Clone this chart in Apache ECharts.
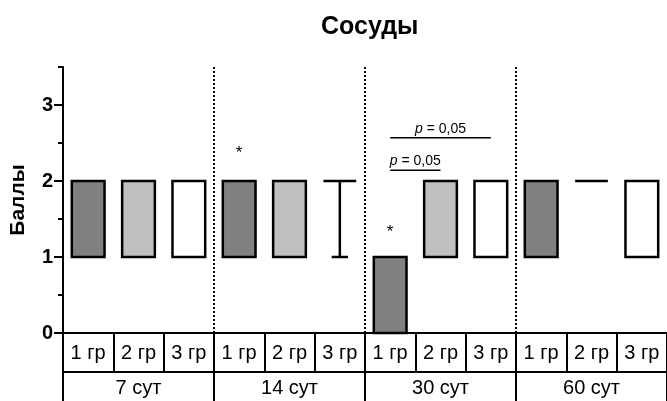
<!DOCTYPE html>
<html>
<head>
<meta charset="utf-8">
<script src="https://cdn.jsdelivr.net/npm/echarts@6/dist/echarts.min.js"></script>
<style>html,body{margin:0;padding:0;background:#fff}#c{width:667px;height:401px}</style>
</head>
<body>
<div id="c"></div>
<script>
// ---- data ----
var categories = ['1 гр','2 гр','3 гр','1 гр','2 гр','3 гр','1 гр','2 гр','3 гр','1 гр','2 гр','3 гр'];
var groups = ['7 сут','14 сут','30 сут','60 сут'];
var minVals = [1,1,1, 1,1,1, 0,1,1, 1,2,1];
var q1Vals  = [1,1,1, 1,1,2, 0,1,1, 1,2,1];
var q3Vals  = [2,2,2, 2,2,2, 1,2,2, 2,2,2];
var maxVals = [2,2,2, 2,2,2, 1,2,2, 2,2,2];
var groupColors = ['#808080','#c0c0c0','#ffffff'];
var groupStarts = [3, 6, 9];
var stars = [[3, 2.36], [6, 1.33]];
var brackets = [[6, 7, 2.14], [6, 8, 2.57]];
var bracketLabel = '{i|p} = 0,05';
var yMajorTicks = [0, 1, 2, 3];
var yMinorTicks = [0.5, 1.5, 2.5, 3.5];

var FONT = 'Liberation Sans, Arial, sans-serif';
var boxData = categories.map(function (c, i) {
  return [i, minVals[i], q1Vals[i], q3Vals[i], maxVals[i], i % 3];
});

var chart = echarts.init(document.getElementById('c'));
chart.setOption({
  animation: false,
  backgroundColor: '#fff',
  title: {
    text: 'Сосуды', left: 316, top: 10,
    textStyle: { fontFamily: FONT, fontSize: 25, fontWeight: 'bold', color: '#000' }
  },
  grid: { left: 62, right: 0, top: 67, bottom: 68 },
  xAxis: [{
    type: 'category', data: categories, position: 'bottom', boundaryGap: true,
    axisLine: { show: true, onZero: false, lineStyle: { color: '#000', width: 2 } },
    axisTick: { show: true, interval: 0, length: 39, lineStyle: { color: '#000', width: 2 } },
    axisLabel: { show: true, interval: 0, margin: 10, fontSize: 20, color: '#000', fontFamily: FONT }
  }, {
    type: 'category', data: groups, position: 'bottom', offset: 39, boundaryGap: true,
    axisLine: { show: true, onZero: false, lineStyle: { color: '#000', width: 2 } },
    axisTick: { show: true, interval: 0, length: 31, lineStyle: { color: '#000', width: 2 } },
    axisLabel: { show: true, interval: 0, margin: 6, fontSize: 20, color: '#000', fontFamily: FONT }
  }],
  yAxis: [{
    type: 'value', min: 0, max: 3.5,
    name: 'Баллы', nameLocation: 'middle', nameRotate: 90, nameGap: 34,
    nameTextStyle: { fontFamily: FONT, fontSize: 21, fontWeight: 'bold', color: '#000' },
    axisLine: { show: true, lineStyle: { color: '#000', width: 2 } },
    axisTick: { show: true, customValues: yMajorTicks, length: 9, lineStyle: { color: '#000', width: 2 } },
    axisLabel: { customValues: yMajorTicks, margin: 10, fontSize: 20, fontWeight: 'bold', color: '#000', fontFamily: FONT },
    splitLine: { show: false }
  }, {
    type: 'value', min: 0, max: 3.5, position: 'left',
    axisLine: { show: false },
    axisTick: { show: true, customValues: yMinorTicks, length: 5, lineStyle: { color: '#000', width: 2 } },
    axisLabel: { show: false },
    splitLine: { show: false }
  }],
  series: [{
    type: 'custom', xAxisIndex: 0, yAxisIndex: 0, data: groupStarts.map(function (g) { return [g, 0]; }),
    encode: { x: 0, y: 1 }, z: 1,
    renderItem: function (params, api) {
      var bw = api.size([1, 0])[0];
      var x = api.coord([api.value(0), 0])[0] - bw / 2;
      var y0 = api.coord([0, 0])[1];
      var y1 = api.coord([0, 3.5])[1];
      return { type: 'line', shape: { x1: x, y1: y0, x2: x, y2: y1 },
        style: { stroke: '#000', lineWidth: 2, lineDash: [2, 2] } };
    }
  }, {
    type: 'custom', xAxisIndex: 0, yAxisIndex: 0, data: boxData, encode: { x: 0, y: [1, 2, 3, 4] }, z: 3,
    renderItem: function (params, api) {
      var i = api.value(0);
      var mn = api.value(1), q1 = api.value(2), q3 = api.value(3), mx = api.value(4);
      var bw = api.size([1, 0])[0];
      var w = bw * 0.65;
      var cx = api.coord([i, 0])[0];
      var yq1 = api.coord([i, q1])[1], yq3 = api.coord([i, q3])[1];
      var ymn = api.coord([i, mn])[1], ymx = api.coord([i, mx])[1];
      var ls = { stroke: '#000', lineWidth: 2.5 };
      var ch = [];
      if (q3 > q1) {
        ch.push({ type: 'rect', shape: { x: cx - w / 2, y: yq3, width: w, height: yq1 - yq3 },
          style: { fill: groupColors[api.value(5)], stroke: '#000', lineWidth: 2.5 } });
      } else {
        ch.push({ type: 'line', shape: { x1: cx - w / 2, y1: yq1, x2: cx + w / 2, y2: yq1 }, style: ls });
      }
      if (mn < q1) {
        ch.push({ type: 'line', shape: { x1: cx, y1: yq1, x2: cx, y2: ymn }, style: ls });
        ch.push({ type: 'line', shape: { x1: cx - w / 4, y1: ymn, x2: cx + w / 4, y2: ymn }, style: ls });
      }
      if (mx > q3) {
        ch.push({ type: 'line', shape: { x1: cx, y1: yq3, x2: cx, y2: ymx }, style: ls });
        ch.push({ type: 'line', shape: { x1: cx - w / 4, y1: ymx, x2: cx + w / 4, y2: ymx }, style: ls });
      }
      return { type: 'group', children: ch };
    }
  }, {
    type: 'custom', xAxisIndex: 0, yAxisIndex: 0, data: stars, encode: { x: 0, y: 1 }, z: 4,
    renderItem: function (params, api) {
      var p = api.coord([api.value(0), api.value(1)]);
      return { type: 'text', x: p[0], y: p[1],
        style: { text: '*', fontSize: 17, fontFamily: FONT, fill: '#000', align: 'center', verticalAlign: 'middle' } };
    }
  }, {
    type: 'custom', xAxisIndex: 0, yAxisIndex: 0, data: brackets, encode: { x: 0, y: 2 }, z: 4,
    renderItem: function (params, api) {
      var a = api.coord([api.value(0), api.value(2)]);
      var b = api.coord([api.value(1), api.value(2)]);
      return { type: 'group', children: [
        { type: 'line', shape: { x1: a[0], y1: a[1], x2: b[0], y2: b[1] }, style: { stroke: '#000', lineWidth: 1.5 } },
        { type: 'text', x: (a[0] + b[0]) / 2, y: a[1] - 2,
          style: { text: bracketLabel, fontSize: 14, fontFamily: FONT, fill: '#000', align: 'center', verticalAlign: 'bottom',
            rich: { i: { fontStyle: 'italic', fontSize: 14, fontFamily: FONT } } } }
      ] };
    }
  }]
});
</script>
</body>
</html>
